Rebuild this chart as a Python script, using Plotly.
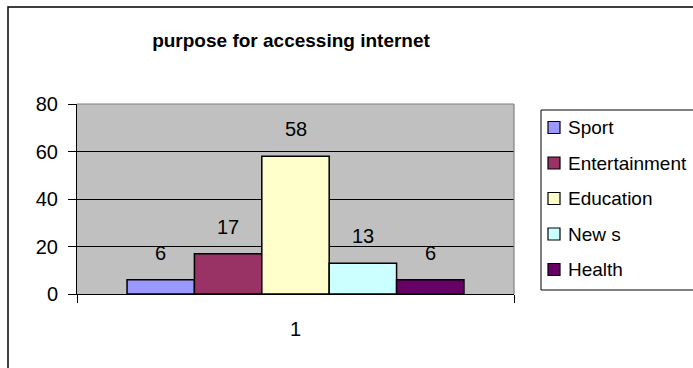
import plotly.graph_objects as go

# Survey results: purpose for accessing the internet
categories = ["1"]
series_names = ["Sport", "Entertainment", "Education", "New s", "Health"]
series_values = [6, 17, 58, 13, 6]
series_colors = ["#9999FF", "#993366", "#FFFFCC", "#CCFFFF", "#660066"]
y_ticks = [0, 20, 40, 60, 80]

FONT = "Arial, Liberation Sans, Helvetica, sans-serif"
W, H = 693, 368
ML, MR, MT, MB = 77, 179, 104, 74
PW, PH = W - ML - MR, H - MT - MB


def px_x(px):
    """pixel column -> paper x"""
    return (px - ML) / PW


def px_y(py):
    """pixel row -> paper y"""
    return (H - MB - py) / PH


n = len(series_names)
fig = go.Figure()
for i, (name, val, col) in enumerate(zip(series_names, series_values, series_colors)):
    fig.add_trace(go.Bar(
        x=categories,
        y=[val],
        name=name,
        showlegend=False,
        marker=dict(color=col, line=dict(color="black", width=1.5)),
    ))
    # value label above each bar (bar slot width = plot width * (1 - gap) / n)
    slot = PW * (1 - 0.229) / n
    fig.add_annotation(
        x=0, y=val, text=str(val), showarrow=False,
        xref="x", yref="y", font=dict(family=FONT, size=20, color="black"),
        yanchor="middle", yshift=27,
        xshift=(i - (n - 1) / 2) * slot,
    )

# hand-drawn legend box with swatches
leg_top, leg_bottom, leg_left = 110, 290, 541
fig.add_shape(type="rect", xref="paper", yref="paper",
              x0=px_x(leg_left), x1=px_x(W + 5), y0=px_y(leg_bottom), y1=px_y(leg_top),
              line=dict(color="black", width=1), fillcolor="white", layer="below")
row_step = 35.5
for i, (name, col) in enumerate(zip(series_names, series_colors)):
    cy = 127.5 + i * row_step
    fig.add_shape(type="rect", xref="paper", yref="paper",
                  x0=px_x(548), x1=px_x(560), y0=px_y(cy + 6), y1=px_y(cy - 6),
                  line=dict(color="black", width=1.2), fillcolor=col)
    fig.add_annotation(x=px_x(566), y=px_y(cy), xref="paper", yref="paper",
                       text=name, showarrow=False, xanchor="left", yanchor="middle",
                       font=dict(family=FONT, size=19, color="black"))

# outer chart frame
fig.add_shape(type="rect", xref="paper", yref="paper",
              x0=px_x(8), x1=px_x(W + 10), y0=px_y(H + 10), y1=px_y(7),
              line=dict(color="black", width=1.5), fillcolor="rgba(0,0,0,0)",
              layer="below")
# gray top/right borders of the plot area
fig.add_shape(type="line", xref="x domain", yref="y domain",
              x0=0, x1=1, y0=1, y1=1, line=dict(color="#808080", width=1.2),
              layer="above")
fig.add_shape(type="line", xref="x domain", yref="y domain",
              x0=1, x1=1, y0=0, y1=1, line=dict(color="#808080", width=1.2),
              layer="above")

fig.update_layout(
    width=W, height=H,
    margin=dict(l=ML, r=MR, t=MT, b=MB, autoexpand=False),
    paper_bgcolor="white",
    plot_bgcolor="#C0C0C0",
    barmode="group",
    bargap=0.229,
    bargroupgap=0,
    font=dict(family=FONT, size=20, color="black"),
    title=dict(text="<b>purpose for accessing internet</b>",
               x=px_x(291), xref="paper", xanchor="center",
               y=1 - 40 / H, yref="container", yanchor="middle",
               font=dict(family=FONT, size=19, color="black")),
    showlegend=False,
)

fig.update_xaxes(
    type="category", range=[-0.5, 0.5], showline=True, linecolor="black",
    linewidth=1, ticks="outside", tickson="boundaries", ticklen=8,
    tickcolor="black", showgrid=False, tickfont=dict(family=FONT, size=20),
    ticklabelstandoff=17,
)
fig.update_yaxes(
    range=[0, 80], tickvals=y_ticks, showline=True, linecolor="black",
    linewidth=1, ticks="outside", ticklen=8, tickcolor="black",
    showgrid=True, gridcolor="black", gridwidth=1, zeroline=False,
    tickfont=dict(family=FONT, size=20), ticklabelstandoff=6,
)

fig.write_html("out.html")
